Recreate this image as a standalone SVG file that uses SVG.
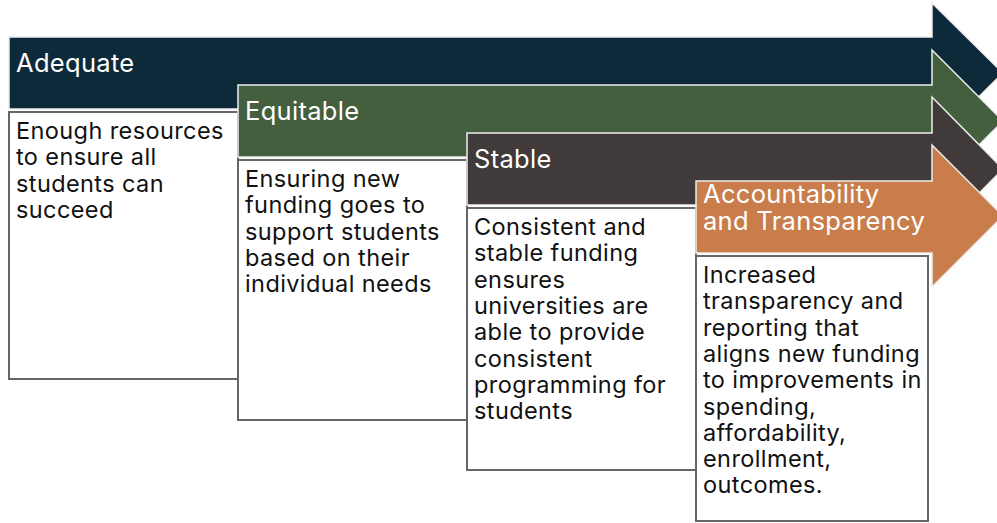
<svg xmlns="http://www.w3.org/2000/svg" width="997" height="523" viewBox="0 0 997 523">
  <style>
    .arrow { stroke: #eeeeee; stroke-width: 1.5; stroke-linejoin: miter; }
    .box { fill: #ffffff; stroke: #666666; stroke-width: 2; }
    .title { font-family: Inter, "Noto Sans", "Liberation Sans", sans-serif; font-size: 25.5px; letter-spacing: 0.3px; fill: #ffffff; }
    .body { font-family: Inter, "Noto Sans", "Liberation Sans", sans-serif; font-size: 23.5px; letter-spacing: 0.4px; fill: #111111; }
  </style>
  <rect width="997" height="523" fill="#ffffff"/>

  <!-- Adequate -->
  <g id="adequate">
    <path class="arrow" fill="#0d2a3b" d="M9 37 H932 V3 L1003 73 L932 143 V109 H9 Z"/>
    <rect class="box" x="9" y="112" width="229" height="267"/>
    <text class="title" x="16" y="72">Adequate</text>
    <text class="body">
      <tspan x="16" y="139">Enough resources</tspan>
      <tspan x="16" y="165.3">to ensure all</tspan>
      <tspan x="16" y="191.6">students can</tspan>
      <tspan x="16" y="217.9">succeed</tspan>
    </text>
  </g>

  <!-- Equitable -->
  <g id="equitable">
    <path class="arrow" fill="#435f3e" d="M238 85 H932 V50 L1003 121 L932 192 V157 H238 Z"/>
    <rect class="box" x="238" y="160" width="229" height="260"/>
    <text class="title" x="245" y="120">Equitable</text>
    <text class="body">
      <tspan x="245" y="187">Ensuring new</tspan>
      <tspan x="245" y="213.3">funding goes to</tspan>
      <tspan x="245" y="239.6">support students</tspan>
      <tspan x="245" y="265.9">based on their</tspan>
      <tspan x="245" y="292.2">individual needs</tspan>
    </text>
  </g>

  <!-- Stable -->
  <g id="stable">
    <path class="arrow" fill="#403a3a" d="M467 133 H932 V97 L1003 169 L932 241 V205 H467 Z"/>
    <rect class="box" x="467" y="208" width="229" height="262"/>
    <text class="title" x="474" y="168">Stable</text>
    <text class="body">
      <tspan x="474" y="235">Consistent and</tspan>
      <tspan x="474" y="261.3">stable funding</tspan>
      <tspan x="474" y="287.6">ensures</tspan>
      <tspan x="474" y="313.9">universities are</tspan>
      <tspan x="474" y="340.2">able to provide</tspan>
      <tspan x="474" y="366.5">consistent</tspan>
      <tspan x="474" y="392.8">programming for</tspan>
      <tspan x="474" y="419.1">students</tspan>
    </text>
  </g>

  <!-- Accountability and Transparency -->
  <g id="accountability">
    <path class="arrow" fill="#c87d4a" d="M696 181 H932 V145 L1003 216 L932 287 V253 H696 Z"/>
    <rect class="box" x="696" y="256" width="232" height="265"/>
    <text class="title">
      <tspan x="703" y="203">Accountability</tspan>
      <tspan x="703" y="230">and Transparency</tspan>
    </text>
    <text class="body">
      <tspan x="703" y="283">Increased</tspan>
      <tspan x="703" y="309.3">transparency and</tspan>
      <tspan x="703" y="335.6">reporting that</tspan>
      <tspan x="703" y="361.9">aligns new funding</tspan>
      <tspan x="703" y="388.2">to improvements in</tspan>
      <tspan x="703" y="414.5">spending,</tspan>
      <tspan x="703" y="440.8">affordability,</tspan>
      <tspan x="703" y="467.1">enrollment,</tspan>
      <tspan x="703" y="493.4">outcomes.</tspan>
    </text>
  </g>

  <!-- no connectors: the arrows themselves carry the flow -->
  <g id="connectors"/>
</svg>
